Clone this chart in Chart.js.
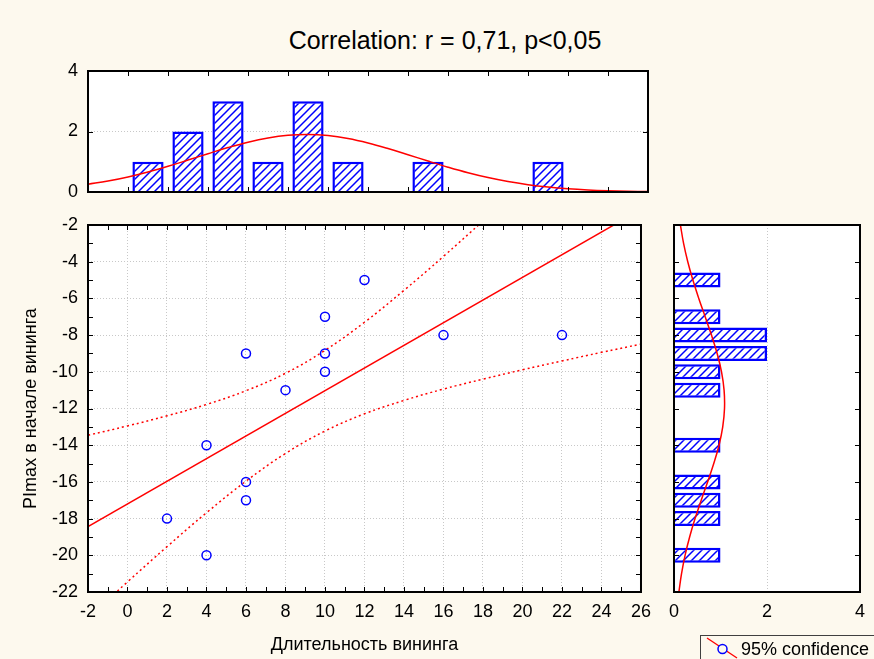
<!DOCTYPE html>
<html>
<head>
<meta charset="utf-8">
<title>Correlation</title>
<script src="https://cdn.jsdelivr.net/npm/chart.js@4.4.1/dist/chart.umd.min.js"></script>
<style>
  html, body { margin: 0; padding: 0; }
  body {
    width: 874px; height: 659px; position: relative; overflow: hidden;
    background: #fdf9ee;
    font-family: Arial, "Liberation Sans", sans-serif; color: #000;
  }
  canvas { position: absolute; }
  #title {
    position: absolute; left: 0; top: 25px; width: 890px;
    text-align: center; font-size: 25px; line-height: 30px;
  }
  #legend {
    position: absolute; left: 700px; top: 635px; width: 190px; height: 30px;
    border: 1px solid #404040;
  }
  #legend svg { position: absolute; left: 0; top: 0; }
  #legend span {
    position: absolute; left: 40px; top: 2px;
    font-size: 18px; line-height: 22px; white-space: nowrap;
  }
</style>
</head>
<body>
<div id="title">Correlation: r = 0,71, p&lt;0,05</div>
<canvas id="topHist" width="660" height="163" style="left:0;top:50px"></canvas>
<canvas id="scatter" width="660" height="459" style="left:0;top:200px"></canvas>
<canvas id="rightHist" width="214" height="459" style="left:660px;top:200px"></canvas>
<div id="legend">
  <svg width="40" height="26">
    <line x1="6" y1="2" x2="36" y2="22" stroke="#ff0000" stroke-width="1.3"/>
    <circle cx="21.5" cy="13" r="4.5" fill="#fdf9ee" stroke="#0000ff" stroke-width="1.5"/>
  </svg>
  <span>95% confidence</span>
</div>

<script>
// Длительность вининга / PImax в начале вининга
const duration = [2, 4, 4, 6, 6, 6, 8, 10, 10, 10, 12, 16, 22];
const pimax = [-18, -14, -20, -9, -16, -17, -11, -7, -9, -10, -5, -8, -8];

// гистограмма сверху (интервалы по 2)
const durBins = [1, 3, 5, 7, 9, 11, 15, 21];
const durCounts = [1, 2, 3, 1, 3, 1, 1, 1];

// гистограмма справа (интервалы по 1)
const pimaxBins = [-5, -7, -8, -9, -10, -11, -14, -16, -17, -18, -20];
const pimaxCounts = [1, 1, 2, 2, 1, 1, 1, 1, 1, 1, 1];

// линия регрессии
const fitX = [-2, 26];
const fitY = [-18.43, -1.15];

// 95% доверительные границы
const bandX = [-2, 0, 2, 4, 6, 8, 10, 12, 14, 16, 18, 20, 22];
const bandUpper = [-13.46, -12.95, -12.40, -11.78, -11.03, -10.08, -8.83, -7.30, -5.56, -3.71, -1.78, 0.18, 2.17];
const bandLowerX = [-2, 0, 2, 4, 6, 8, 10, 12, 14, 16, 18, 20, 22, 24, 26];
const bandLower = [-23.41, -21.45, -19.53, -17.68, -15.96, -14.45, -13.23, -12.29, -11.56, -10.94, -10.40, -9.89, -9.41, -8.94, -8.49];

// нормальные кривые
const normTopX = [-2, -1, 0, 1, 2, 3, 4, 5, 6, 7, 8, 9, 10, 11, 12, 13, 14, 15, 16, 17, 18, 19, 20, 21, 22, 23, 24, 25, 26];
const normTopY = [0.256, 0.363, 0.499, 0.662, 0.850, 1.055, 1.266, 1.469, 1.648, 1.787, 1.875, 1.902, 1.865, 1.769, 1.622,
                  1.438, 1.233, 1.022, 0.820, 0.635, 0.476, 0.345, 0.242, 0.164, 0.107, 0.068, 0.042, 0.025, 0.014];
const normRightY = [-2, -3, -4, -5, -6, -7, -8, -9, -10, -11, -12, -13, -14, -15, -16, -17, -18, -19, -20, -21, -22];
const normRightX = [0.138, 0.206, 0.296, 0.406, 0.533, 0.670, 0.806, 0.928, 1.022, 1.077, 1.086, 1.048, 0.968,
                    0.855, 0.723, 0.585, 0.453, 0.336, 0.238, 0.162, 0.105];

Chart.defaults.font.family = 'Arial, "Liberation Sans", sans-serif';
Chart.defaults.font.size = 18;
Chart.defaults.color = '#000';

const RED = '#ff0000';
const BLUE = '#0000ff';

function pairs(xs, ys) {
  return xs.map((x, i) => ({ x: x, y: ys[i] }));
}

// штриховка для столбиков
function makeHatch() {
  const c = document.createElement('canvas');
  c.width = 8; c.height = 8;
  const g = c.getContext('2d');
  g.fillStyle = '#fff';
  g.fillRect(0, 0, 8, 8);
  g.strokeStyle = BLUE;
  g.lineWidth = 1.5;
  g.beginPath();
  g.moveTo(0, 8); g.lineTo(8, 0);
  g.moveTo(-2, 2); g.lineTo(2, -2);
  g.moveTo(6, 10); g.lineTo(10, 6);
  g.stroke();
  return g.createPattern(c, 'repeat');
}
const hatch = makeHatch();

// белое поле, рамка и засечки внутрь
const framePlugin = {
  id: 'frame',
  beforeDraw(chart) {
    const { ctx, chartArea: a } = chart;
    ctx.save();
    ctx.fillStyle = '#fff';
    ctx.fillRect(a.left, a.top, a.width, a.height);
    ctx.restore();
  },
  afterDraw(chart, args, opts) {
    const { ctx, chartArea: a, scales } = chart;
    const len = 5;
    ctx.save();
    ctx.strokeStyle = '#000';
    ctx.lineWidth = 1;
    ctx.beginPath();
    if (opts.xStep) {
      const s = scales.x;
      const n = Math.round((s.max - s.min) / opts.xStep);
      for (let i = 1; i < n; i++) {
        const px = Math.round(s.getPixelForValue(s.min + i * opts.xStep)) + 0.5;
        ctx.moveTo(px, a.bottom); ctx.lineTo(px, a.bottom - len);
        ctx.moveTo(px, a.top); ctx.lineTo(px, a.top + len);
      }
    }
    if (opts.yStep) {
      const s = scales.y;
      const n = Math.round((s.max - s.min) / opts.yStep);
      for (let i = 1; i < n; i++) {
        const py = Math.round(s.getPixelForValue(s.min + i * opts.yStep)) + 0.5;
        ctx.moveTo(a.left, py); ctx.lineTo(a.left + len, py);
        ctx.moveTo(a.right, py); ctx.lineTo(a.right - len, py);
      }
    }
    ctx.stroke();
    ctx.lineWidth = 2;
    ctx.strokeRect(a.left, a.top, a.width, a.height);
    ctx.restore();
  }
};

const gridStyle = { color: '#c8c8c8', lineWidth: 1, drawTicks: false };
const dotted = { display: false, dash: [1, 2] };

// распределение длительности вининга
new Chart(document.getElementById('topHist'), {
  type: 'bar',
  data: {
    datasets: [
      {
        type: 'line',
        data: pairs(normTopX, normTopY),
        borderColor: RED,
        borderWidth: 1.5,
        pointRadius: 0,
        tension: 0.4
      },
      {
        type: 'bar',
        data: pairs(durBins, durCounts),
        backgroundColor: hatch,
        borderColor: BLUE,
        borderWidth: 2.5,
        barPercentage: 0.78,
        categoryPercentage: 1
      }
    ]
  },
  options: {
    responsive: false,
    animation: false,
    layout: { padding: { top: 21, right: 12, bottom: 0, left: 0 } },
    plugins: {
      legend: { display: false },
      tooltip: { enabled: false },
      frame: { xStep: 2, yStep: 2 }
    },
    scales: {
      x: {
        type: 'linear', min: -2, max: 26, offset: false,
        ticks: { display: false },
        grid: { display: false, offset: false, drawTicks: false },
        border: { display: false },
        afterFit: s => { s.height = 21; }
      },
      y: {
        type: 'linear', min: 0, max: 4,
        ticks: { stepSize: 2, padding: 10 },
        grid: gridStyle,
        border: dotted,
        afterFit: s => { s.width = 88; }
      }
    }
  },
  plugins: [framePlugin]
});

// диаграмма рассеяния
new Chart(document.getElementById('scatter'), {
  type: 'scatter',
  data: {
    datasets: [
      {
        data: pairs(duration, pimax),
        pointStyle: 'circle',
        pointRadius: 4.5,
        pointBorderWidth: 1.5,
        borderColor: BLUE,
        backgroundColor: 'rgba(0,0,0,0)'
      },
      {
        data: pairs(fitX, fitY),
        showLine: true,
        pointRadius: 0,
        borderColor: RED,
        borderWidth: 1.5
      },
      {
        data: pairs(bandX, bandUpper),
        showLine: true,
        pointRadius: 0,
        borderColor: RED,
        borderWidth: 1.5,
        borderDash: [2, 3],
        tension: 0.4
      },
      {
        data: pairs(bandLowerX, bandLower),
        showLine: true,
        pointRadius: 0,
        borderColor: RED,
        borderWidth: 1.5,
        borderDash: [2, 3],
        tension: 0.4
      }
    ]
  },
  options: {
    responsive: false,
    animation: false,
    layout: { padding: { top: 25, right: 12, bottom: 0, left: 0 } },
    plugins: {
      legend: { display: false },
      tooltip: { enabled: false },
      frame: { xStep: 1, yStep: 1 }
    },
    scales: {
      x: {
        type: 'linear', min: -2, max: 26,
        ticks: { stepSize: 2, padding: 9 },
        grid: gridStyle,
        border: dotted,
        title: { display: true, text: 'Длительность вининга', font: { size: 18 }, padding: { top: 0, bottom: 3 } },
        afterFit: s => { s.height = 67; }
      },
      y: {
        type: 'linear', min: -22, max: -2,
        ticks: { stepSize: 2, padding: 10 },
        grid: gridStyle,
        border: dotted,
        title: { display: true, text: 'PImax в начале вининга', font: { size: 18 }, padding: { top: 20, bottom: 0 } },
        afterFit: s => { s.width = 88; }
      }
    }
  },
  plugins: [framePlugin]
});

// распределение PImax
new Chart(document.getElementById('rightHist'), {
  type: 'bar',
  data: {
    datasets: [
      {
        type: 'line',
        indexAxis: 'y',
        data: pairs(normRightX, normRightY),
        borderColor: RED,
        borderWidth: 1.5,
        pointRadius: 0,
        tension: 0.4
      },
      {
        type: 'bar',
        data: pairs(pimaxCounts, pimaxBins),
        backgroundColor: hatch,
        borderColor: BLUE,
        borderWidth: 2.5,
        barPercentage: 0.82,
        categoryPercentage: 1
      }
    ]
  },
  options: {
    indexAxis: 'y',
    responsive: false,
    animation: false,
    layout: { padding: { top: 25, right: 14, bottom: 0, left: 14 } },
    plugins: {
      legend: { display: false },
      tooltip: { enabled: false },
      frame: { yStep: 2 }
    },
    scales: {
      x: {
        type: 'linear', min: 0, max: 4,
        ticks: { stepSize: 2, padding: 9 },
        grid: gridStyle,
        border: dotted,
        afterFit: s => { s.height = 67; }
      },
      y: { type: 'linear', min: -22, max: -2, offset: false, display: false, grid: { offset: false } }
    }
  },
  plugins: [framePlugin]
});
</script>
</body>
</html>
